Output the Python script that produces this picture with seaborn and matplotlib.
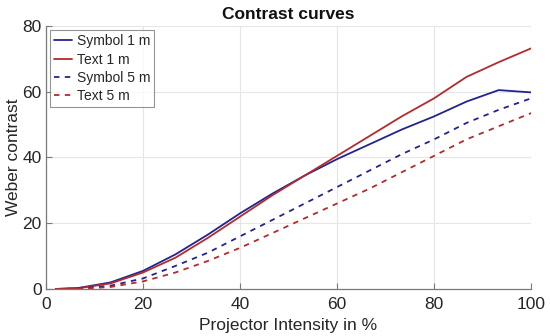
import numpy as np
import pandas as pd
import matplotlib
matplotlib.use("Agg")
import matplotlib.pyplot as plt
import seaborn as sns

intensity = [2, 6.67, 13.33, 20, 26.67, 33.33, 40, 46.67, 53.33, 60, 66.67, 73.33, 80, 86.67, 93.33, 100]
symbol_1m = [0, 0.3, 2.0, 5.5, 10.5, 16.5, 23, 29, 34.5, 39.5, 44, 48.5, 52.5, 57, 60.5, 59.8]
text_1m = [0, 0.2, 1.7, 5.0, 9.5, 15.5, 22, 28.5, 34.5, 40.5, 46.5, 52.5, 58, 64.5, 69, 73.2]
symbol_5m = [0, 0.1, 1.0, 3.2, 7, 11, 16, 21, 26, 31, 36, 41, 45.5, 50.5, 54.5, 58]
text_5m = [0, 0.0, 0.6, 2.3, 5, 8.5, 12.5, 17, 21.5, 26, 30.5, 35.5, 40.5, 45.5, 49.5, 53.5]
series_names = ["Symbol 1 m", "Text 1 m", "Symbol 5 m", "Text 5 m"]

frames = []
for name, vals in zip(series_names, [symbol_1m, text_1m, symbol_5m, text_5m]):
    frames.append(pd.DataFrame({"x": intensity, "y": vals, "series": name}))
df = pd.concat(frames, ignore_index=True)

sns.set_style("white")
plt.rcParams['font.family'] = ['Liberation Sans', 'DejaVu Sans']

fig = plt.figure(figsize=(5.5, 3.36), dpi=100)
ax = fig.add_axes([0.0836, 0.140, 0.882, 0.7826])

blue = "#232390"
red = "#b22c2c"
palette = {"Symbol 1 m": blue, "Text 1 m": red, "Symbol 5 m": blue, "Text 5 m": red}
dashes = {"Symbol 1 m": "", "Text 1 m": "", "Symbol 5 m": (3, 3), "Text 5 m": (3, 3)}

sns.lineplot(data=df, x="x", y="y", hue="series", style="series", palette=palette,
             dashes=dashes, hue_order=series_names, style_order=series_names,
             linewidth=1.3, ax=ax, legend=True)

ax.set_xlim(0, 100)
ax.set_ylim(0, 80)
ax.set_xticks([0, 20, 40, 60, 80, 100])
ax.set_yticks([0, 20, 40, 60, 80])
ax.grid(True, color="#e6e6e6", linewidth=0.8)
ax.set_axisbelow(True)
for s in ["top", "right"]:
    ax.spines[s].set_visible(False)
for s in ["left", "bottom"]:
    ax.spines[s].set_color("#7a7a7a")
    ax.spines[s].set_linewidth(0.9)
ax.tick_params(axis="both", direction="in", length=4, color="#7a7a7a",
               labelsize=12.5, labelcolor="#262626")
ax.tick_params(axis="x", pad=6)
ax.tick_params(axis="y", pad=3)
ax.tick_params(axis="both", bottom=True, left=True)
ax.set_xlabel("Projector Intensity in %", fontsize=12.5, color="#262626", labelpad=4)
ax.set_ylabel("Weber contrast", fontsize=12.5, color="#262626", labelpad=1)
ax.set_title("Contrast curves", fontsize=12.5, fontweight="bold", color="#111111", pad=5)

leg = ax.legend(loc="upper left", fontsize=10, frameon=True, fancybox=False,
                edgecolor="#7a7a7a", borderpad=0.3, handlelength=1.25,
                handletextpad=0.35, labelspacing=0.3, borderaxespad=0.3)
leg.get_frame().set_linewidth(0.8)

fig.savefig("out.png", dpi=100)
